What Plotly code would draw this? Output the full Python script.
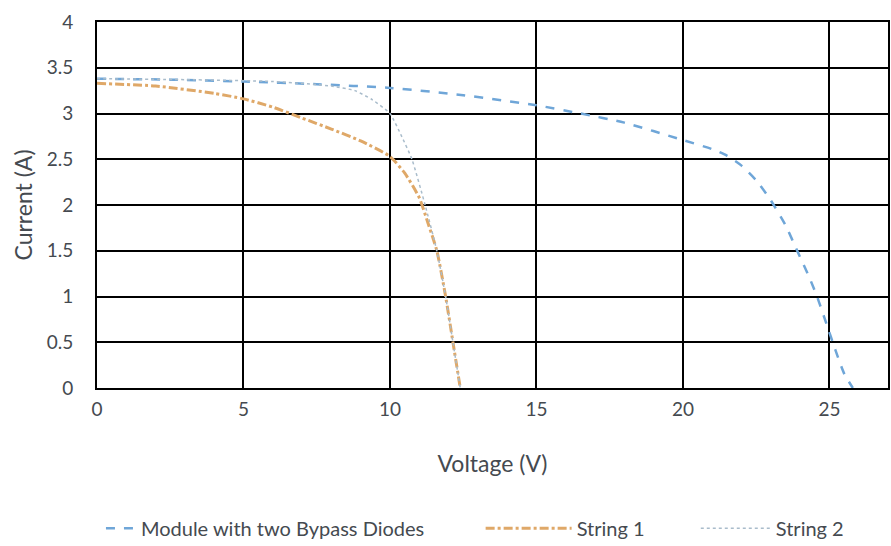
import plotly.graph_objects as go

# Module with two bypass diodes
v_module = [0, 2.5, 5, 7.5, 10, 12.5, 15, 16.5, 18, 20, 21, 21.5, 22, 22.5, 23, 23.5, 23.9, 24.3, 24.6, 24.9, 25.2, 25.5, 25.8]
i_module = [3.38, 3.37, 3.35, 3.32, 3.28, 3.2, 3.09, 3.0, 2.9, 2.71, 2.61, 2.54, 2.43, 2.27, 2.05, 1.78, 1.5, 1.22, 0.98, 0.7, 0.42, 0.16, 0.0]

# String 1
v_s1 = [0, 2, 4, 5, 6, 7, 8, 9, 10, 10.5, 11, 11.3, 11.6, 11.9, 12.15, 12.4]
i_s1 = [3.33, 3.3, 3.22, 3.16, 3.07, 2.95, 2.83, 2.7, 2.53, 2.35, 2.08, 1.8, 1.5, 1.0, 0.5, 0.0]

# String 2
v_s2 = [0, 3, 6, 8.0, 8.8, 9.4, 10.0, 10.4, 10.75, 11.2, 11.6, 11.9, 12.15, 12.4]
i_s2 = [3.38, 3.37, 3.35, 3.3, 3.25, 3.15, 3.0, 2.75, 2.5, 2.0, 1.5, 1.0, 0.5, 0.0]

names = ["Module with two Bypass Diodes", "String 1", "String 2"]
x_ticks = [0, 5, 10, 15, 20, 25]
y_ticks = [0, 0.5, 1, 1.5, 2, 2.5, 3, 3.5, 4]
y_tick_text = ["0", "0.5", "1", "1.5", "2", "2.5", "3", "3.5", "4"]

FONT = "Lato, 'Open Sans', sans-serif"
TXT = "#454a50"
FS_TICK = 19
FS_LEG = 20
FS_TITLE = 23

fig = go.Figure()
fig.add_trace(go.Scatter(x=v_module, y=i_module, mode="lines", name=names[0],
                         line=dict(color="#6fa6d8", width=2.5, dash="dash", shape="spline", smoothing=0.6),
                         legend="legend"))
fig.add_trace(go.Scatter(x=v_s1, y=i_s1, mode="lines", name=names[1],
                         line=dict(color="#dfa868", width=3, dash="dashdot", shape="spline", smoothing=0.6),
                         legend="legend2"))
fig.add_trace(go.Scatter(x=v_s2, y=i_s2, mode="lines", name=names[2],
                         line=dict(color="#a9bccb", width=1.5, dash="dot", shape="spline", smoothing=0.5),
                         legend="legend3"))

leg_common = dict(orientation="h", yanchor="middle", y=-0.383, xanchor="left",
                  font=dict(family=FONT, size=FS_LEG, color=TXT),
                  bgcolor="rgba(0,0,0,0)")

fig.update_layout(
    width=891, height=546,
    margin=dict(l=97, r=3, t=22, b=158, autoexpand=False),
    paper_bgcolor="white", plot_bgcolor="white",
    font=dict(family=FONT, size=FS_TICK, color=TXT),
    showlegend=True,
    legend=dict(x=0.005, itemwidth=30, **leg_common),
    legend2=dict(x=0.485, itemwidth=86, **leg_common),
    legend3=dict(x=0.757, itemwidth=70, **leg_common),
    xaxis=dict(range=[0, 27], tickvals=x_ticks, showgrid=True, gridcolor="black",
               gridwidth=2, showline=True, linecolor="black", linewidth=2, mirror=True,
               zeroline=False, ticks="outside", ticklen=3, tickcolor="rgba(0,0,0,0)", automargin=False,
               title=dict(text="Voltage (V)", font=dict(family=FONT, size=FS_TITLE, color=TXT), standoff=37),
               tickfont=dict(family=FONT, size=FS_TICK, color=TXT)),
    yaxis=dict(range=[0, 4], tickvals=y_ticks, ticktext=y_tick_text, showgrid=True,
               gridcolor="black", gridwidth=2, showline=True, linecolor="black", linewidth=2,
               mirror=True, zeroline=False, ticks="outside", ticklen=18, tickcolor="rgba(0,0,0,0)",
               automargin=False,
               title=dict(text="Current (A)", font=dict(family=FONT, size=FS_TITLE, color=TXT), standoff=8),
               tickfont=dict(family=FONT, size=FS_TICK, color=TXT)),
)

fig.write_html("out.html", config={"displayModeBar": False},
               post_script="document.body.style.margin='0px';document.body.style.padding='0px';")
